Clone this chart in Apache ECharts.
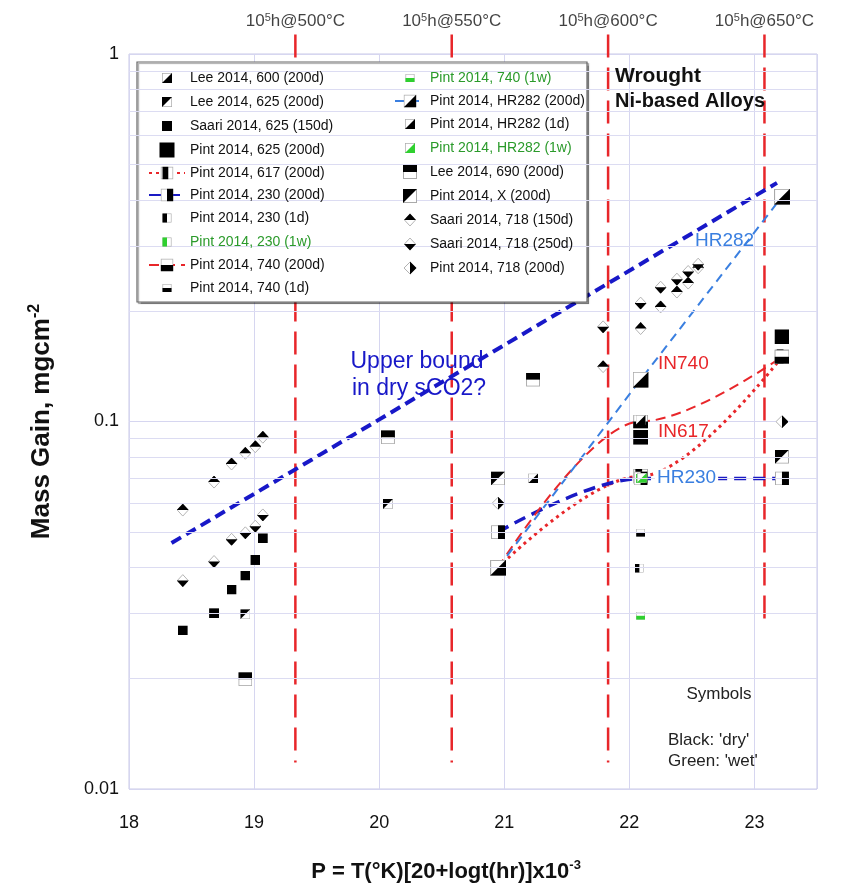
<!DOCTYPE html>
<html><head><meta charset="utf-8">
<script src="https://cdn.jsdelivr.net/npm/echarts@6/dist/echarts.min.js"></script>
<style>html,body{margin:0;padding:0;background:#fff}#c{width:845px;height:888px}</style>
</head><body><div id="c"></div>
<script>
// ---------------- data ----------------
const xMin = 18, xMax = 23.5;
const yMin = 0.01, yMax = 1;
const minorY = [0.02,0.03,0.04,0.05,0.06,0.07,0.08,0.09,0.2,0.3,0.4,0.5,0.6,0.7,0.8,0.9];
const isoTemps = ['500','550','600','650'];
const isoP = [19.33, 20.58, 21.83, 23.08];
const isoBottom = [0.0118, 0.0118, 0.0118, 0.0288];
const isoTop = 1.13;

const lee600 = [[21.23, 0.070]];
const lee625 = [[18.93, 0.0299], [20.07, 0.0596]];
const saari625 = [[18.43, 0.0270], [18.68, 0.0301], [18.82, 0.0349], [18.93, 0.0381], [19.01, 0.0420], [19.07, 0.0481]];
const pint625 = [[22.09, 0.0906], [23.22, 0.170]];
const pint617 = [[20.95, 0.040], [22.09, 0.071], [23.22, 0.150]];
const pint230 = [[20.95, 0.050], [22.09, 0.070], [23.22, 0.070]];
const pint230_1d = [[22.08, 0.0399]];
const pint230_1w = [[22.09, 0.070]];
const pint740 = [[20.95, 0.040], [22.09, 0.100], [23.22, 0.150]];
const pint740_1d = [[22.09, 0.0498]];
const pint740_1w = [[22.09, 0.0296]];
const pintHR282 = [[20.95, 0.040], [22.09, 0.130], [23.22, 0.409]];
const pintHR282_1d = [[22.09, 0.101]];
const pintHR282_1w = [[22.10, 0.0703]];
const lee690 = [[18.93, 0.0199], [20.07, 0.0906], [21.23, 0.130]];
const pintX = [[20.95, 0.070], [23.22, 0.0802]];
const saari718_150 = [[18.43, 0.0574], [18.68, 0.0684], [18.82, 0.0766], [18.93, 0.0819], [19.01, 0.0854], [19.07, 0.0906],
                      [21.79, 0.141], [22.09, 0.179], [22.25, 0.205], [22.38, 0.225], [22.47, 0.238], [22.55, 0.262]];
const saari718_250 = [[18.43, 0.0369], [18.68, 0.0416], [18.82, 0.0478], [18.93, 0.0498], [19.01, 0.0519], [19.07, 0.0557],
                      [21.79, 0.181], [22.09, 0.210], [22.25, 0.232], [22.38, 0.244], [22.47, 0.256], [22.55, 0.268]];
const pint718 = [[20.95, 0.0599], [23.22, 0.0999]];
const upperBound = [[18.34, 0.0467], [23.18, 0.446]];

// ---------------- symbols ----------------
const FONT = '"Liberation Sans", Arial, Helvetica, sans-serif';
const GRAY = '#a9a9a9', BLK = '#000', GRN = '#2fd02f';
function shapeSVG(kind, color) {
  const sq = `<rect x="0.7" y="0.7" width="18.6" height="18.6" fill="#fff" stroke="${GRAY}" stroke-width="1.4"/>`;
  const dm = `<polygon points="10,0.8 19.2,10 10,19.2 0.8,10" fill="#fff" stroke="${GRAY}" stroke-width="1.4"/>`;
  const f = `fill="${color}"`;
  switch (kind) {
    case 'full': return `<rect x="0" y="0" width="20" height="20" ${f}/>`;
    case 'lr': return sq + `<polygon points="20,0 20,20 0,20" ${f}/>`;
    case 'ul': return sq + `<polygon points="0,0 20,0 0,20" ${f}/>`;
    case 'top': return sq + `<rect x="0" y="0" width="20" height="10" ${f}/>`;
    case 'bot': return sq + `<rect x="0" y="10" width="20" height="10" ${f}/>`;
    case 'left': return sq + `<rect x="0" y="0" width="10" height="20" ${f}/>`;
    case 'right': return sq + `<rect x="10" y="0" width="10" height="20" ${f}/>`;
    case 'mid': return sq + `<rect x="3" y="0" width="9" height="20" ${f}/>`;
    case 'dup': return dm + `<polygon points="10,0 20,10 0,10" ${f}/>`;
    case 'ddown': return dm + `<polygon points="0,10 20,10 10,20" ${f}/>`;
    case 'dright': return dm + `<polygon points="10,0 20,10 10,20" ${f}/>`;
  }
  return '';
}
function uri(svg) { return 'image://data:image/svg+xml;charset=utf-8,' + encodeURIComponent(svg); }
function symURI(kind, color) {
  return uri(`<svg xmlns="http://www.w3.org/2000/svg" width="40" height="40" viewBox="0 0 20 20">${shapeSVG(kind, color)}</svg>`);
}
function legendIconURI(kind, color, w, h, s) {
  return uri(`<svg xmlns="http://www.w3.org/2000/svg" width="${w*2}" height="${h*2}" viewBox="0 0 ${w} ${h}"><g transform="translate(${(w-s[0])/2},${(h-s[1])/2}) scale(${s[0]/20},${s[1]/20})">${shapeSVG(kind, color)}</g></svg>`);
}

// name, data, kind, colour, size, text colour, line style (null = scatter), legend column
const entries = [
  ['Lee 2014, 600 (200d)', lee600, 'lr', BLK, [10,10], '#111', null, 0],
  ['Lee 2014, 625 (200d)', lee625, 'ul', BLK, [10,10], '#111', null, 0],
  ['Saari 2014, 625 (150d)', saari625, 'full', BLK, [10,10], '#111', null, 0],
  ['Pint 2014, 625 (200d)', pint625, 'full', BLK, [15,15], '#111', null, 0],
  ['Pint 2014, 617 (200d)', pint617, 'mid', BLK, [15,15], '#111', {color:'#e8262a', width:3, type:[3,4], smooth:0.35}, 0],
  ['Pint 2014, 230 (200d)', pint230, 'right', BLK, [14,14], '#111', {color:'#1a1ac4', width:3.5, type:[12,7], smooth:0.35}, 0],
  ['Pint 2014, 230 (1d)', pint230_1d, 'left', BLK, [9,9], '#111', null, 0],
  ['Pint 2014, 230 (1w)', pint230_1w, 'left', GRN, [9,9], '#2a9a2a', null, 0],
  ['Pint 2014, 740 (200d)', pint740, 'bot', BLK, [15,14], '#111', {color:'#e8262a', width:2, type:[10,6], smooth:0.35}, 0],
  ['Pint 2014, 740 (1d)', pint740_1d, 'bot', BLK, [9,8], '#111', null, 0],
  ['Pint 2014, 740 (1w)', pint740_1w, 'bot', GRN, [9,8], '#2a9a2a', null, 1],
  ['Pint 2014, HR282 (200d)', pintHR282, 'lr', BLK, [16,16], '#111', {color:'#3a7fe0', width:2, type:[9,6], smooth:0}, 1],
  ['Pint 2014, HR282 (1d)', pintHR282_1d, 'lr', BLK, [10,10], '#111', null, 1],
  ['Pint 2014, HR282 (1w)', pintHR282_1w, 'lr', GRN, [10,10], '#2a9a2a', null, 1],
  ['Lee 2014, 690 (200d)', lee690, 'top', BLK, [14,14], '#111', null, 1],
  ['Pint 2014, X (200d)', pintX, 'ul', BLK, [14,14], '#111', null, 1],
  ['Saari 2014, 718 (150d)', saari718_150, 'dup', BLK, [12,13], '#111', null, 1],
  ['Saari 2014, 718 (250d)', saari718_250, 'ddown', BLK, [12,13], '#111', null, 1],
  ['Pint 2014, 718 (200d)', pint718, 'dright', BLK, [13,13], '#111', null, 1]
];

// ---------------- series ----------------
const series = [];
series.push({
  type: 'line', name: '_grid', data: [], silent: true, z: 1,
  markLine: { silent: true, symbol: ['none','none'], label: {show:false},
    lineStyle: {color:'#dcdcf2', width:1, type:'solid'},
    data: minorY.map(v => ({yAxis: v})) }
});
isoP.forEach((p, i) => {
  series.push({ type: 'line', name: '_iso' + i, clip: false, silent: true, symbol: 'none', z: 2,
    lineStyle: {color: '#e8262a', width: 2.5, type: [23, 10]},
    data: [[p, isoTop], [p, isoBottom[i]]] });
});
series.push({ type: 'scatter', name: '_isoLabels', clip: false, silent: true, symbolSize: 1,
  itemStyle: {color: 'rgba(0,0,0,0)'}, z: 5,
  label: { show: true, position: 'top', distance: 3,
    rich: { a: {fontSize: 17, lineHeight: 19, fontFamily: FONT, color: '#111'},
            s: {fontSize: 11, lineHeight: 8, verticalAlign: 'top', fontFamily: FONT, color: '#111'} } },
  data: isoP.map((p, i) => ({ value: [p, isoTop], label: { formatter: `{a|10}{s|5}{a|h@${isoTemps[i]}°C}` } })) });
series.push({ type: 'line', name: '_upper', silent: true, symbol: 'none', z: 2,
  lineStyle: {color: '#1818c8', width: 4, type: [11, 6]}, data: upperBound });

// line series first (under), then scatter
const order = entries.filter(e => e[6]).concat(entries.filter(e => !e[6]));
order.forEach(e => {
  const [name, data, kind, color, size, tcol, ls] = e;
  if (ls) {
    series.push({ type: 'line', name, data, z: 3, smooth: ls.smooth, smoothMonotone: 'x',
      symbol: symURI(kind, color), symbolSize: size, symbolKeepAspect: false, showSymbol: true,
      lineStyle: {color: ls.color, width: ls.width, type: ls.type}, itemStyle: {color: ls.color, opacity: 1} });
  } else {
    series.push({ type: 'scatter', name, data, z: 4,
      symbol: symURI(kind, color), symbolSize: size, symbolKeepAspect: false, itemStyle: {color: '#000', opacity: 1} });
  }
});

function legendData(col, w, h) {
  return entries.filter(e => e[7] === col).map(e => {
    const item = { name: e[0], textStyle: {color: e[5]} };
    if (!e[6]) item.icon = legendIconURI(e[2], e[3], w, h, e[4]);
    return item;
  });
}

const titleRich = (fs) => ({
  a: {fontSize: fs, fontWeight: 'bold', fontFamily: FONT, color: '#111', lineHeight: fs + 4},
  s: {fontSize: Math.round(fs * 0.6), fontWeight: 'bold', fontFamily: FONT, color: '#111', lineHeight: Math.round(fs * 0.55), verticalAlign: 'top'}
});

const chart = echarts.init(document.getElementById('c'), null, {renderer: 'canvas'});
chart.setOption({
  animation: false,
  backgroundColor: '#fff',
  grid: { left: 129, top: 54, right: 28, bottom: 99, show: true, borderColor: '#c9c9e6', borderWidth: 1 },
  xAxis: { type: 'value', min: xMin, max: xMax, interval: 1,
    axisLine: {show: false}, axisTick: {show: false},
    splitLine: {show: true, lineStyle: {color: '#d6d6f0', width: 1}},
    axisLabel: { fontSize: 18, fontFamily: FONT, color: '#111', margin: 25,
      formatter: v => (Number.isInteger(v) ? String(v) : '') },
    name: '{a|P = T(°K)[20+logt(hr)]x10}{s|-3}', nameLocation: 'middle', nameGap: 70,
    nameTextStyle: { padding: [0, 54, 0, 0], rich: titleRich(22) } },
  yAxis: { type: 'log', logBase: 10, min: yMin, max: yMax,
    axisLine: {show: false}, axisTick: {show: false},
    splitLine: {show: true, lineStyle: {color: '#d6d6f0', width: 1}},
    minorSplitLine: {show: false},
    axisLabel: { fontSize: 18, fontFamily: FONT, color: '#111', margin: 10,
      formatter: v => (v >= 1 ? '1' : v >= 0.1 ? '0.1' : '0.01') },
    name: '{a|Mass Gain, mgcm}{s|-2}', nameLocation: 'middle', nameGap: 72,
    nameTextStyle: { padding: [0, 0, 0, 0], rich: titleRich(26) } },
  legend: [
    { orient: 'vertical', left: 143, top: 65, itemWidth: 36, itemHeight: 16, itemGap: 8, itemTextGap: 5,
      selectedMode: false, symbolKeepAspect: true, z: 6,
      textStyle: {fontSize: 14, fontFamily: FONT, color: '#111'}, data: legendData(0, 36, 16) },
    { orient: 'vertical', left: 389, top: 65, itemWidth: 30, itemHeight: 16, itemGap: 8, itemTextGap: 4,
      selectedMode: false, symbolKeepAspect: true, z: 6,
      textStyle: {fontSize: 14, fontFamily: FONT, color: '#111'}, data: legendData(1, 30, 16) }
  ],
  graphic: [
    { type: 'rect', z: 5, silent: true, shape: {x: 137, y: 62, width: 450, height: 240},
      style: {fill: '#fff', stroke: '#666', lineWidth: 1.2, shadowColor: 'rgba(0,0,0,0.35)', shadowOffsetX: 1.5, shadowOffsetY: 1.5, shadowBlur: 1} },
    { type: 'text', z: 7, silent: true, left: 615, top: 66, style: {text: 'Wrought', font: `bold 21px ${FONT}`, fill: '#111'} },
    { type: 'text', z: 7, silent: true, left: 615, top: 91, style: {text: 'Ni-based Alloys', font: `bold 20px ${FONT}`, fill: '#111'} },
    { type: 'text', z: 7, silent: true, x: 417, y: 362, style: {text: 'Upper bound', font: `23px ${FONT}`, fill: '#1818c8', align: 'center', verticalAlign: 'middle'} },
    { type: 'text', z: 7, silent: true, x: 419, y: 389, style: {text: 'in dry sCO2?', font: `23px ${FONT}`, fill: '#1818c8', align: 'center', verticalAlign: 'middle'} },
    { type: 'text', z: 7, silent: true, x: 695, y: 241, style: {text: 'HR282', font: `19px ${FONT}`, fill: '#3a7fe0', verticalAlign: 'middle'} },
    { type: 'text', z: 7, silent: true, x: 658, y: 364, style: {text: 'IN740', font: `19px ${FONT}`, fill: '#e8262a', verticalAlign: 'middle'} },
    { type: 'text', z: 7, silent: true, x: 658, y: 432, style: {text: 'IN617', font: `19px ${FONT}`, fill: '#e8262a', verticalAlign: 'middle'} },
    { type: 'text', z: 7, silent: true, x: 655, y: 478, style: {text: 'HR230', font: `19px ${FONT}`, fill: '#3a7fe0', verticalAlign: 'middle', backgroundColor: '#fff', padding: [0, 2, 0, 2]} },
    { type: 'text', z: 7, silent: true, x: 719, y: 694, style: {text: 'Symbols', font: `17px ${FONT}`, fill: '#222', align: 'center', verticalAlign: 'middle'} },
    { type: 'text', z: 7, silent: true, x: 668, y: 740, style: {text: "Black: 'dry'", font: `17px ${FONT}`, fill: '#222', verticalAlign: 'middle'} },
    { type: 'text', z: 7, silent: true, x: 668, y: 761, style: {text: "Green: 'wet'", font: `17px ${FONT}`, fill: '#222', verticalAlign: 'middle'} }
  ],
  series
});
</script>
</body></html>
